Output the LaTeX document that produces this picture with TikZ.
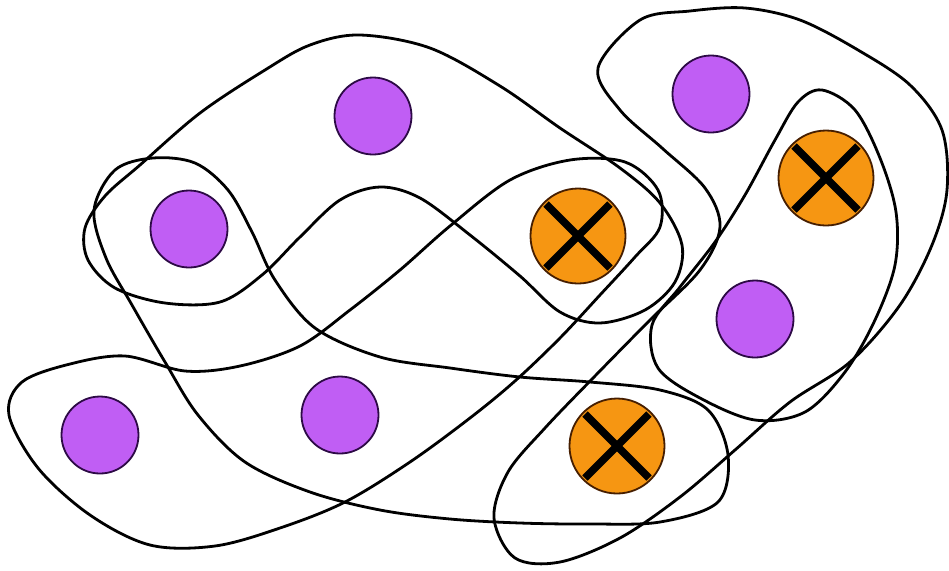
\documentclass[tikz,border=0pt]{standalone}
\usepackage{tikz}
\usetikzlibrary{arrows.meta,positioning,calc}
\definecolor{vpurple}{RGB}{192,94,244}
\definecolor{vpline}{RGB}{45,10,70}
\definecolor{vorange}{RGB}{246,150,18}
\definecolor{voline}{RGB}{70,30,0}
\tikzset{
  pv/.style={circle, draw=vpline, fill=vpurple, line width=0.9pt, minimum size=38.5pt, inner sep=0pt},
  ov/.style={circle, draw=voline, fill=vorange, line width=0.9pt, minimum size=47.5pt, inner sep=0pt},
  xmk/.style={black, line width=3.8pt},
  hedge/.style={black, line width=1.4pt, line join=round},
}

\begin{document}
\begin{tikzpicture}[x=0.5pt, y=-0.5pt]
    \useasboundingbox[fill=white] (0,0) rectangle (949,570);
    % hyperedges
    \draw[hedge] plot[smooth cycle, tension=0.55] coordinates {
      (360,35) (430,48) (500,86) (560,128) (620,168) (660,203)
      (682,245) (675,282) (645,310) (600,323) (560,312) (520,276)
      (470,235) (420,198) (380,187) (340,200) (300,237) (262,275)
      (220,302) (165,303) (115,288) (88,260) (85,228) (105,196)
      (140,165) (200,113) (265,70) (310,45)};
    \draw[hedge] plot[smooth cycle, tension=0.55] coordinates {
      (153,158) (195,163) (228,190) (252,232) (275,280) (315,328)
      (380,357) (450,368) (520,377) (590,382) (660,390) (708,410)
      (728,455) (718,502) (660,522) (590,524) (520,523) (450,519)
      (380,510) (310,492) (245,462) (198,415) (165,362) (132,305)
      (106,258) (94,210) (115,170)};
    \draw[hedge] plot[smooth cycle, tension=0.55] coordinates {
      (570,160) (625,162) (658,190) (660,227) (635,257) (600,295)
      (560,338) (515,381) (470,418) (410,462) (345,502) (280,528)
      (215,546) (150,545) (90,515) (38,468) (9,415) (22,382)
      (70,364) (125,356) (185,371) (240,366) (300,346) (350,310)
      (400,270) (450,226) (510,180)};
    \draw[hedge] plot[smooth cycle, tension=0.55] coordinates {
      (640,20) (690,11) (745,8) (800,20) (858,50) (910,85)
      (942,130) (947,190) (932,245) (900,305) (850,362) (790,402)
      (735,450) (680,497) (620,538) (560,562) (515,558) (494,518)
      (508,472) (545,428) (595,376) (650,320) (700,270) (720,227)
      (705,188) (662,148) (620,110) (598,68)};
    \draw[hedge] plot[smooth cycle, tension=0.55] coordinates {
      (822,90) (855,110) (880,158) (896,212) (895,265) (875,320)
      (845,372) (805,412) (755,420) (700,398) (658,368) (652,325)
      (680,287) (715,242) (745,195) (775,140) (798,102)};
    % vertices
    \node[pv] (A) at (373,116) {};
    \node[pv] (B) at (189,229) {};
    \node[ov] (C) at (578,236) {};
    \node[pv] (D) at (711,94) {};
    \node[ov] (E) at (826,178) {};
    \node[pv] (F) at (755,319) {};
    \node[pv] (G) at (100,435) {};
    \node[pv] (H) at (340,415) {};
    \node[ov] (I) at (617,446) {};
    \foreach \n in {C,E,I}
      \draw[xmk] ($(\n)+(-32,-32)$) -- ($(\n)+(32,32)$)
                 ($(\n)+(32,-32)$) -- ($(\n)+(-32,32)$);
\end{tikzpicture}
\end{document}
